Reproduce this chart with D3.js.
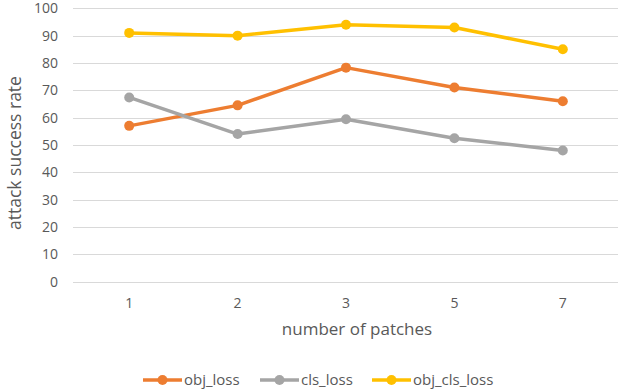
<!DOCTYPE html>
<html>
<head>
<meta charset="utf-8">
<script src="https://cdn.jsdelivr.net/npm/d3@7"></script>
<style>
  body { margin: 0; background: #fff; }
  text { font-family: "Open Sans", "Liberation Sans", sans-serif; fill: #595959; }
</style>
</head>
<body>
<svg></svg>
<script>
const categories = ["1", "2", "3", "5", "7"];
const objLoss = [57, 64.5, 78.3, 71, 66];
const clsLoss = [67.4, 54, 59.4, 52.5, 48];
const objClsLoss = [91, 90, 94, 93, 85];
const yTicks = [0, 10, 20, 30, 40, 50, 60, 70, 80, 90, 100];

const series = [
    { name: "obj_loss", values: objLoss, color: "#ED7D31" },
    { name: "cls_loss", values: clsLoss, color: "#A5A5A5" },
    { name: "obj_cls_loss", values: objClsLoss, color: "#FFC000" }
];

const width = 640,
      height = 391;

const x = d3.scaleBand()
      .domain(categories)
      .range([75, 617]);

const y = d3.scaleLinear()
      .domain([0, 100])
      .range([281.7, 8.3]);

const svg = d3.select("svg")
      .attr("width", width)
      .attr("height", height)
      .attr("viewBox", [0, 0, width, height]);

// gridlines
svg.append("g")
    .selectAll("line")
    .data(yTicks)
    .join("line")
    .attr("x1", 73)
    .attr("x2", 618)
    .attr("y1", d => Math.round(y(d)) + 0.5)
    .attr("y2", d => Math.round(y(d)) + 0.5)
    .attr("stroke", "#D9D9D9")
    .attr("stroke-width", 1);

const yAxis = d3.axisLeft(y).tickValues(yTicks).tickSize(0).tickPadding(0);
svg.append("g")
    .attr("transform", "translate(58,0)")
    .call(yAxis)
    .call(g => g.select(".domain").remove())
    .selectAll("text")
    .attr("font-size", 14)
    .attr("fill", "#595959");

const xAxis = d3.axisBottom(x).tickSize(0).tickPadding(0);
svg.append("g")
    .attr("transform", "translate(0,298)")
    .call(xAxis)
    .call(g => g.select(".domain").remove())
    .selectAll("text")
    .attr("font-size", 14)
    .attr("fill", "#595959");

// axis titles
svg.append("text")
    .attr("transform", "translate(21,153) rotate(-90)")
    .attr("text-anchor", "middle")
    .attr("font-size", 17.5)
    .text("attack success rate");

svg.append("text")
    .attr("x", 357)
    .attr("y", 335)
    .attr("text-anchor", "middle")
    .attr("font-size", 17)
    .text("number of patches");

const line = d3.line()
      .x((d, i) => x(categories[i]) + x.bandwidth() / 2)
      .y(d => y(d));

series.forEach(s => {
    svg.append("path")
        .attr("fill", "none")
        .attr("stroke", s.color)
        .attr("stroke-width", 3.5)
        .attr("stroke-linejoin", "round")
        .attr("d", line(s.values));
    svg.append("g")
        .selectAll("circle")
        .data(s.values)
        .join("circle")
        .attr("cx", (d, i) => x(categories[i]) + x.bandwidth() / 2)
        .attr("cy", d => y(d))
        .attr("r", 5)
        .attr("fill", s.color);
});

// legend
const legendX = [143, 260, 372];
const legend = svg.append("g")
      .selectAll("g")
      .data(series)
      .join("g")
      .attr("transform", (d, i) => `translate(${legendX[i]},380)`);

legend.append("line")
    .attr("x1", 0).attr("x2", 39)
    .attr("stroke", d => d.color)
    .attr("stroke-width", 3.5);
legend.append("circle")
    .attr("cx", 19.5)
    .attr("r", 5)
    .attr("fill", d => d.color);
legend.append("text")
    .attr("x", 41)
    .attr("dy", "0.35em")
    .attr("font-size", 15)
    .text(d => d.name);
</script>
</body>
</html>
